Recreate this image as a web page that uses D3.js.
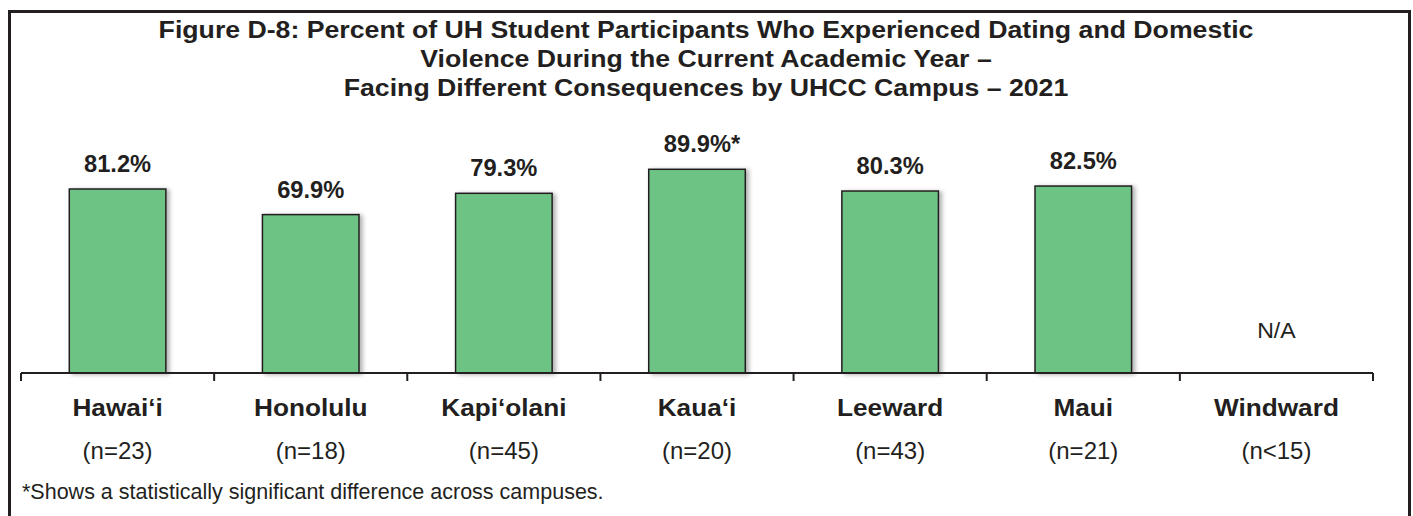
<!DOCTYPE html>
<html>
<head>
<meta charset="utf-8">
<script src="https://cdn.jsdelivr.net/npm/d3@7"></script>
<style>
  body { margin: 0; background: #fff; }
  svg { display: block; font-family: "Liberation Sans", Arial, sans-serif; }
</style>
</head>
<body>
<svg></svg>
<script>
// data
var campuses = ["Hawai\u2018i", "Honolulu", "Kapi\u2018olani", "Kaua\u2018i", "Leeward", "Maui", "Windward"];
var sampleSizes = ["(n=23)", "(n=18)", "(n=45)", "(n=20)", "(n=43)", "(n=21)", "(n<15)"];
var percents = [81.2, 69.9, 79.3, 89.9, 80.3, 82.5, null];
var flags = ["", "", "", "*", "", "", ""];
var titleLines = [
  "Figure D-8: Percent of UH Student Participants Who Experienced Dating and Domestic",
  "Violence During the Current Academic Year \u2013",
  "Facing Different Consequences by UHCC Campus \u2013 2021"
];
var footnote = "*Shows a statistically significant difference across campuses.";

var width = 1413, height = 516;
var ink = "#231f20";

var svg = d3.select("svg")
  .attr("width", width)
  .attr("height", height);

// place text with a small horizontal stretch, like the original pdf
function place(sel, fx, fy, sx) {
  sel.attr("transform", function(d, i) {
    return "translate(" + fx(d, i) + "," + fy(d, i) + ") scale(" + sx + ",1)";
  });
}

// drop shadow for bars
var defs = svg.append("defs");
var f = defs.append("filter").attr("id", "shadow")
  .attr("x", "-20%").attr("y", "-20%").attr("width", "150%").attr("height", "140%");
f.append("feDropShadow").attr("dx", 3).attr("dy", 1).attr("stdDeviation", 2)
  .attr("flood-color", "#000").attr("flood-opacity", 0.3);

// outer frame (bottom edge falls off the picture)
svg.append("rect")
  .attr("x", 9.5).attr("y", 11.5)
  .attr("width", 1400).attr("height", 520)
  .attr("fill", "none").attr("stroke", ink).attr("stroke-width", 3);

// title
svg.append("g").selectAll("text")
  .data(titleLines)
  .enter().append("text")
  .attr("text-anchor", "middle")
  .attr("font-size", "23px")
  .attr("font-weight", "bold")
  .attr("fill", ink)
  .text(function(d) { return d; })
  .call(place, function() { return 706; }, function(d, i) { return 38 + i * 29; }, 1.16);

var x = d3.scaleBand()
  .domain(campuses)
  .range([21, 1373])
  .paddingInner(0.5)
  .paddingOuter(0.25);

var y = d3.scaleLinear()
  .domain([0, 100])
  .range([373, 146.4]);

var rows = campuses.map(function(c, i) {
  return { name: c, n: sampleSizes[i], v: percents[i], flag: flags[i] };
});
var cx = function(d) { return x(d.name) + x.bandwidth() / 2; };

// bars
svg.append("g")
  .selectAll("rect")
  .data(rows.filter(function(d) { return d.v != null; }))
  .enter().append("rect")
  .attr("x", function(d) { return x(d.name); })
  .attr("y", function(d) { return y(d.v); })
  .attr("width", x.bandwidth())
  .attr("height", function(d) { return y(0) - y(d.v); })
  .attr("fill", "#6cc383")
  .attr("stroke", ink)
  .attr("stroke-width", 1.5)
  .attr("filter", "url(#shadow)");

// value labels
svg.append("g")
  .selectAll("text")
  .data(rows.filter(function(d) { return d.v != null; }))
  .enter().append("text")
  .attr("text-anchor", "middle")
  .attr("font-size", "23px")
  .attr("font-weight", "bold")
  .attr("fill", ink)
  .text(function(d) { return d.v.toFixed(1) + "%" + d.flag; })
  .call(place, function(d) { return cx(d) + (d.flag ? 5 : 0); }, function(d) { return y(d.v) - 17; }, 1.03);

// N/A for campuses without a value
svg.append("g")
  .selectAll("text")
  .data(rows.filter(function(d) { return d.v == null; }))
  .enter().append("text")
  .attr("text-anchor", "middle")
  .attr("font-size", "22px")
  .attr("fill", ink)
  .text("N/A")
  .call(place, cx, function() { return 338; }, 1.05);

// x axis with ticks between bands
var axisG = svg.append("g").attr("transform", "translate(0,373)");
var edges = d3.range(campuses.length + 1).map(function(i) { return 21 + i * x.step(); });
axisG.append("line")
  .attr("x1", 21).attr("x2", 1373)
  .attr("stroke", ink).attr("stroke-width", 2);
axisG.selectAll("line.tick")
  .data(edges)
  .enter().append("line")
  .attr("class", "tick")
  .attr("x1", function(d) { return d; }).attr("x2", function(d) { return d; })
  .attr("y1", 0).attr("y2", 8)
  .attr("stroke", ink).attr("stroke-width", 2);

// category labels
svg.append("g")
  .selectAll("text")
  .data(rows)
  .enter().append("text")
  .attr("text-anchor", "middle")
  .attr("font-size", "24.5px")
  .attr("font-weight", "bold")
  .attr("fill", ink)
  .text(function(d) { return d.name; })
  .call(place, cx, function() { return 416; }, 1.07);

svg.append("g")
  .selectAll("text")
  .data(rows)
  .enter().append("text")
  .attr("text-anchor", "middle")
  .attr("font-size", "24px")
  .attr("fill", ink)
  .text(function(d) { return d.n; })
  .call(place, cx, function() { return 459; }, 1.0);

// footnote
svg.append("text")
  .attr("x", 22)
  .attr("y", 499)
  .attr("font-size", "21.5px")
  .attr("fill", ink)
  .text(footnote);
</script>
</body>
</html>
